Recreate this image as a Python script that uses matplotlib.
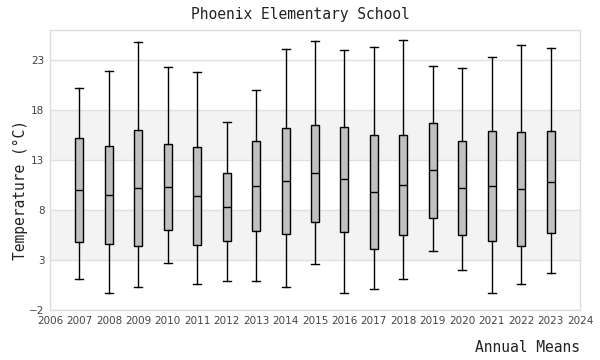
import matplotlib
matplotlib.use("Agg")
import matplotlib.pyplot as plt

years = list(range(2007, 2024))
lows    = [1.07, -0.33, 0.27, 2.67, 0.57, 0.9, 0.9, 0.27, 2.57, -0.33, 0.07, 1.07, 3.87, 1.97, -0.33, 0.57, 1.67]
q1s     = [4.77, 4.57, 4.37, 5.97, 4.47, 4.87, 5.87, 5.57, 6.83, 5.83, 4.07, 5.47, 7.23, 5.47, 4.87, 4.37, 5.67]
medians = [9.97, 9.47, 10.2, 10.3, 9.4, 8.27, 10.4, 10.87, 11.67, 11.07, 9.77, 10.47, 11.97, 10.2, 10.4, 10.07, 10.77]
q3s     = [15.17, 14.4, 16.0, 14.57, 14.3, 11.67, 14.9, 16.2, 16.47, 16.27, 15.47, 15.47, 16.67, 14.87, 15.87, 15.77, 15.87]
highs   = [20.2, 21.9, 24.77, 22.27, 21.8, 16.77, 20.0, 24.07, 24.87, 23.97, 24.27, 24.97, 22.37, 22.17, 23.27, 24.5, 24.17]

title = "Phoenix Elementary School"
ylabel = "Temperature (°C)"
xlabel = "Annual Means"
yticks = [-2, 3, 8, 13, 18, 23]
xticks = list(range(2006, 2025))

fig = plt.figure(figsize=(6, 3.6), dpi=100)
ax = fig.add_axes([50/600, 50/360, 530/600, 280/360])

stats = []
for lo, a, m, b, hi in zip(lows, q1s, medians, q3s, highs):
    stats.append(dict(whislo=lo, q1=a, med=m, q3=b, whishi=hi, fliers=[]))

ax.bxp(stats, positions=years, widths=0.27, patch_artist=True, showfliers=False,
       boxprops=dict(facecolor="#c0c0c0", edgecolor="black", linewidth=1.0),
       medianprops=dict(color="black", linewidth=1.0),
       whiskerprops=dict(color="black", linewidth=1.0),
       capprops=dict(color="black", linewidth=1.0), capwidths=0.27, zorder=3)

ax.set_xlim(2006, 2024)
ax.set_ylim(-2, 26)
ax.set_xticks(xticks)
ax.set_xticklabels([str(x) for x in xticks])
ax.set_yticks(yticks)
ax.tick_params(length=0, labelsize=7.5, colors="#444444", pad=4)

for lo in [3, 13]:
    ax.axhspan(lo, lo + 5, color="#f3f3f3", zorder=0, lw=0)
for y in yticks:
    ax.axhline(y, color="#e0e0e0", lw=1, zorder=1)

for s in ax.spines.values():
    s.set_color("#dddddd")
    s.set_linewidth(1)

mono = "DejaVu Sans Mono"
fig.text(0.5, 1 - 14/360, title, ha="center", va="center", family=mono, fontsize=10.5, color="#222222")
fig.text(20/600, 170/360, ylabel, ha="center", va="center", rotation=90, family=mono, fontsize=10.5, color="#222222")
fig.text(580/600, 1 - 347/360, xlabel, ha="right", va="center", family=mono, fontsize=10.5, color="#222222")

fig.savefig("out.png", dpi=100)
